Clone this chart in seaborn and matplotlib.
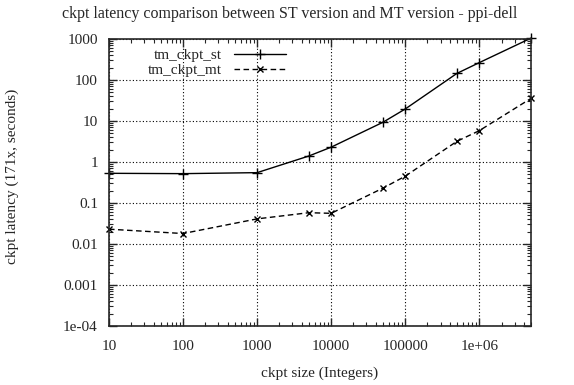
import numpy as np
import pandas as pd
import seaborn as sns
from matplotlib import pyplot as plt
from matplotlib.ticker import LogLocator, FixedLocator, FixedFormatter, NullFormatter

# checkpoint sizes (integers)
ckpt_size = [10, 100, 1000, 5000, 10000, 50000, 100000, 500000, 1000000, 5000000]
# latency in seconds
tm_ckpt_st = [0.53, 0.52, 0.55, 1.4, 2.3, 9.3, 19.6, 145, 265, 1050]
tm_ckpt_mt = [0.023, 0.018, 0.041, 0.058, 0.056, 0.23, 0.45, 3.2, 5.8, 35.6]

x_ticks = [10, 100, 1000, 10000, 100000, 1000000]
x_labels = ["10", "100", "1000", "10000", "100000", "1e+06"]
y_ticks = [1e-4, 1e-3, 1e-2, 1e-1, 1, 10, 100, 1000]
y_labels = ["1e-04", "0.001", "0.01", "0.1", "1", "10", "100", "1000"]

sns.set_style("ticks")
plt.rcParams['font.family'] = ['Liberation Serif', 'DejaVu Serif']
plt.rcParams['font.size'] = 11
plt.rcParams['xtick.direction'] = 'in'
plt.rcParams['ytick.direction'] = 'in'

df = pd.DataFrame({
    "size": ckpt_size * 2,
    "latency": tm_ckpt_st + tm_ckpt_mt,
    "series": ["tm_ckpt_st"] * len(ckpt_size) + ["tm_ckpt_mt"] * len(ckpt_size),
})

fig = plt.figure(figsize=(5.74, 3.85), dpi=100)
ax = fig.add_axes([109 / 574, 1 - 326 / 385, (531 - 109) / 574, (326 - 39) / 385])

sns.lineplot(data=df[df.series == "tm_ckpt_st"], x="size", y="latency", ax=ax,
             color="black", lw=1, marker="+", markersize=7, mew=1, mec="black",
             label="tm_ckpt_st", clip_on=False)
sns.lineplot(data=df[df.series == "tm_ckpt_mt"], x="size", y="latency", ax=ax,
             color="black", lw=1, marker="x", markersize=5, mew=1, mec="black",
             linestyle=(0, (4, 2.5)), label="tm_ckpt_mt", clip_on=False)

ax.set_xscale("log")
ax.set_yscale("log")
ax.set_xlim(10, 5e6)
ax.set_ylim(1e-4, 1000)

ax.xaxis.set_major_locator(FixedLocator(x_ticks))
ax.xaxis.set_major_formatter(FixedFormatter(x_labels))
ax.yaxis.set_major_locator(FixedLocator(y_ticks))
ax.yaxis.set_major_formatter(FixedFormatter(y_labels))
ax.xaxis.set_minor_locator(LogLocator(base=10, subs=np.arange(2, 10), numticks=20))
ax.yaxis.set_minor_locator(LogLocator(base=10, subs=np.arange(2, 10), numticks=20))
ax.xaxis.set_minor_formatter(NullFormatter())
ax.yaxis.set_minor_formatter(NullFormatter())

ax.tick_params(which="major", length=6, width=1, top=True, right=True, labelsize=11)
ax.tick_params(axis="x", which="major", pad=10)
ax.tick_params(axis="y", which="major", pad=8)
ax.tick_params(which="minor", length=3, width=0.8, top=True, right=True)
for s in ax.spines.values():
    s.set_linewidth(1.2)
    s.set_visible(True)

ax.grid(True, which="major", color="black", linestyle=(0, (1, 2)), lw=0.8)

ax.set_xlabel("ckpt size (Integers)", fontsize=11, labelpad=10)
ax.set_ylabel("")
fig.text(12 / 574, 1 - 176 / 385, "ckpt latency (171x, seconds)", rotation=90,
         ha="center", va="center", fontsize=11)
fig.text(290 / 574, 1 - 14 / 385, "ckpt latency comparison between ST version and MT version - ppi-dell",
         ha="center", va="center", fontsize=11.5)

ax.legend(loc="upper left", frameon=False, markerfirst=False, fontsize=11,
          handlelength=3.4, borderaxespad=0.2, labelspacing=0.1,
          bbox_to_anchor=(0.07, 1.0))

fig.savefig("out.png", dpi=100)
